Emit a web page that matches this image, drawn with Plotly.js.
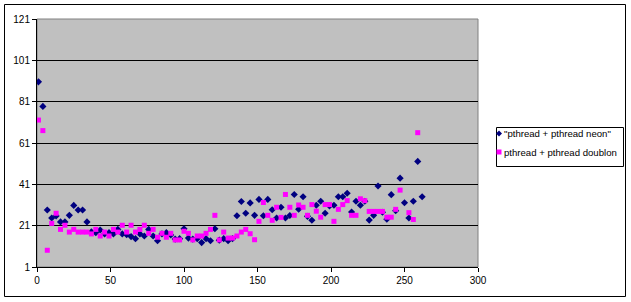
<!DOCTYPE html>
<html>
<head>
<meta charset="utf-8">
<script src="https://cdn.plot.ly/plotly-3.0.1.min.js"></script>
<style>html,body{margin:0;padding:0;background:#fff;}#chart{width:631px;height:302px;}</style>
</head>
<body>
<div id="chart"></div>
<script>
var xValues = [1,4,7,10,13,16,19,22,25,28,31,34,37,40,43,46,49,52,55,58,61,64,67,70,73,76,79,82,85,88,91,94,97,100,103,106,109,112,115,118,121,124,127,130,133,136,139,142,145,148,151,154,157,160,163,166,169,172,175,178,181,184,187,190,193,196,199,202,205,208,211,214,217,220,223,226,229,232,235,238,241,244,247,250,253,256,259,262];

var neonValues = [90.6,78.7,28.6,24.7,25.7,22.8,22.8,26,30.8,28.6,28.6,22.8,18,17.6,18.9,17,17.6,17,19.2,17,16.6,15.7,14.7,17,16,19.2,16,13.7,17,17.6,16.5,14.5,14.7,19.5,15,14.5,14.7,12.8,14.7,13.7,19.5,14,14.7,13.7,14.7,25.8,32.7,27,32,26,33.7,25.8,33.7,28.7,24.7,29.9,24.7,25.9,36.1,29,35,25.5,23.6,30.9,32.8,27,30.5,30.9,35,35,36.7,27.6,32.8,30.9,32.8,23.7,26,40.2,27.5,24.1,36,28.2,44,32.1,24.7,32.8,52.1,35];

var doublonValues = [72.1,67,9.1,22.1,27,19.2,21.2,17.9,19.2,17.9,17.9,17.9,17,19.2,16,17.9,16,19.2,17.9,21.2,17.9,21.2,17.9,19.2,21.2,17.3,19.2,15.4,17.3,15.4,17.3,14.1,14.1,18.3,17.3,14.1,16,16,17.3,19.2,26,14.1,17.9,15,15,16,17.9,19.2,17.1,14.2,23.1,32.2,26,23.6,29.9,25,36.1,29.9,26,31,29.9,26,31.2,28,25.1,31.2,31.2,23.1,28.9,31.2,33.1,26,26,34,33.1,27.9,27.9,27.9,27.9,25.1,25.1,28.9,38.2,null,27.3,24,66,null];

var seriesNames = ['"pthread + pthread neon"', 'pthread + pthread doublon'];
var seriesColors = ['#000080', '#FF00FF'];
var xTicks = [0,50,100,150,200,250,300];
var yTicks = [1,21,41,61,81,101,121];

var font = {family: '"Liberation Sans", Arial, sans-serif', size: 10, color: '#000'};
var legendFont = {family: '"Liberation Sans", Arial, sans-serif', size: 9.6, color: '#000'};

var traces = [
  {x: xValues, y: neonValues, name: seriesNames[0], type: 'scatter', mode: 'markers',
   marker: {symbol: 'diamond', size: 5.5, color: seriesColors[0]}},
  {x: xValues, y: doublonValues, name: seriesNames[1], type: 'scatter', mode: 'markers',
   marker: {symbol: 'square', size: 5, color: seriesColors[1]}}
];

var L = 37, R = 478, T = 19, B = 267;
var W = R - L, H = B - T;
function px(xp){ return (xp - L) / W; }
function py(yp){ return (B - yp) / H; }

// legend drawn by hand (box, symbols, texts)
var legBox = {x0: 496.5, x1: 623.5, y0: 127.5, y1: 166.5};
var legRows = [133.5, 152];
var symX = 499, textX = 502;

var shapes = [
  {type: 'rect', xref: 'paper', yref: 'paper', x0: 0, x1: 1, y0: 0, y1: 1,
   line: {color: '#808080', width: 1}, layer: 'below'},
  {type: 'rect', xref: 'paper', yref: 'paper', x0: px(4.5), x1: px(625.5), y0: py(296.5), y1: py(4.5),
   line: {color: '#000', width: 1}, fillcolor: 'rgba(0,0,0,0)'},
  {type: 'rect', xref: 'paper', yref: 'paper', x0: px(legBox.x0), x1: px(legBox.x1), y0: py(legBox.y1), y1: py(legBox.y0),
   line: {color: '#000', width: 1}, fillcolor: '#ffffff'}
];
var d = 3;
shapes.push({type: 'path', xref: 'paper', yref: 'paper',
  path: 'M' + px(symX - d) + ',' + py(legRows[0]) + ' L' + px(symX) + ',' + py(legRows[0] - d) +
        ' L' + px(symX + d) + ',' + py(legRows[0]) + ' L' + px(symX) + ',' + py(legRows[0] + d) + ' Z',
  fillcolor: seriesColors[0], line: {width: 0}});
shapes.push({type: 'rect', xref: 'paper', yref: 'paper',
  x0: px(symX - 2.5), x1: px(symX + 2.5), y0: py(legRows[1] + 2.5), y1: py(legRows[1] - 2.5),
  fillcolor: seriesColors[1], line: {width: 0}});

var annotations = seriesNames.map(function(n, i){
  return {text: n, xref: 'paper', yref: 'paper', x: px(textX), y: py(legRows[i]),
          xanchor: 'left', yanchor: 'middle', showarrow: false, font: legendFont};
});

var layout = {
  width: 631, height: 302,
  margin: {l: L, r: 631 - R, t: T, b: 302 - B, pad: 0},
  paper_bgcolor: '#ffffff',
  plot_bgcolor: '#C0C0C0',
  font: font,
  showlegend: false,
  xaxis: {
    range: [0, 300], tickvals: xTicks, ticktext: xTicks.map(String),
    showgrid: false, zeroline: false, showline: true, linecolor: '#000', linewidth: 1,
    ticks: 'outside', ticklen: 4, tickcolor: '#000', tickfont: font, fixedrange: true
  },
  yaxis: {
    range: [1, 121], tickvals: yTicks, ticktext: yTicks.map(String),
    showgrid: true, gridcolor: '#000', gridwidth: 1, zeroline: false,
    showline: true, linecolor: '#000', linewidth: 1,
    ticks: 'outside', ticklen: 4, tickcolor: '#000', tickfont: font, fixedrange: true
  },
  shapes: shapes,
  annotations: annotations
};

Plotly.newPlot('chart', traces, layout, {staticPlot: true, displayModeBar: false});
</script>
</body>
</html>
